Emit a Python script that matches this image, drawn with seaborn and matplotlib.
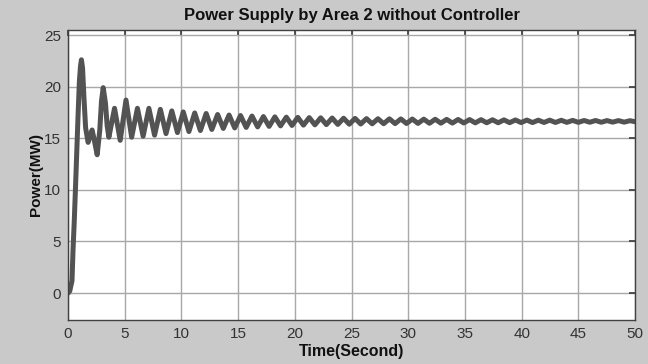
import numpy as np
import pandas as pd
import matplotlib
matplotlib.use("Agg")
import matplotlib.pyplot as plt
import seaborn as sns

# start-up transient
rise_t = [0.0, 0.15, 0.35, 0.44, 0.55, 0.65, 0.78, 0.88, 1.0, 1.1, 1.18, 1.28, 1.4, 1.55,
          1.77, 1.95, 2.12, 2.3, 2.57, 2.8, 2.95, 3.1, 3.3, 3.45, 3.6]
rise_v = [0.0, 0.2, 1.2, 4.2, 7.0, 10.0, 14.0, 17.1, 20.5, 22.0, 22.6, 21.8, 19.0, 16.0,
          14.6, 15.2, 15.8, 14.9, 13.4, 15.8, 18.6, 19.9, 18.4, 16.2, 15.1]

# oscillation peaks
peak_t = [4.10, 5.11, 6.12, 7.13, 8.14, 9.15, 10.16, 11.17, 12.18, 13.19, 14.20, 15.21,
          16.22, 17.23, 18.24, 19.25, 20.26, 21.27, 22.28, 23.29, 24.30, 25.31, 26.32,
          27.33, 28.34, 29.35, 30.36, 31.37, 32.38, 33.39, 34.40, 35.41, 36.42, 37.43,
          38.44, 39.45, 40.46, 41.47, 42.48, 43.49, 44.50, 45.51, 46.52, 47.53, 48.54, 49.55]
peak_v = [17.9, 18.7, 17.9, 17.9, 17.8, 17.65, 17.55, 17.45, 17.4, 17.3, 17.25, 17.2,
          17.15, 17.1, 17.07, 17.04, 17.02, 17.0, 16.98, 16.96, 16.94, 16.92, 16.9,
          16.89, 16.88, 16.87, 16.86, 16.85, 16.84, 16.83, 16.82, 16.81, 16.8, 16.79,
          16.78, 16.77, 16.76, 16.75, 16.75, 16.74, 16.73, 16.72, 16.72, 16.71, 16.71, 16.7]

# oscillation troughs
trough_t = [4.60, 5.61, 6.62, 7.63, 8.64, 9.65, 10.66, 11.67, 12.68, 13.69, 14.70, 15.71,
            16.72, 17.73, 18.74, 19.75, 20.76, 21.77, 22.78, 23.79, 24.80, 25.81, 26.82,
            27.83, 28.84, 29.85, 30.86, 31.87, 32.88, 33.89, 34.90, 35.91, 36.92, 37.93,
            38.94, 39.95, 40.96, 41.97, 42.98, 43.99, 45.00, 46.01, 47.02, 48.03, 49.04, 50.0]
trough_v = [14.8, 15.1, 15.2, 15.3, 15.45, 15.55, 15.65, 15.75, 15.85, 15.95, 16.0, 16.05,
            16.1, 16.15, 16.2, 16.24, 16.27, 16.3, 16.32, 16.34, 16.36, 16.38, 16.4,
            16.41, 16.42, 16.43, 16.44, 16.45, 16.46, 16.47, 16.48, 16.49, 16.5, 16.5,
            16.51, 16.52, 16.52, 16.53, 16.53, 16.54, 16.54, 16.55, 16.55, 16.56, 16.56, 16.6]

x_ticks = [0, 5, 10, 15, 20, 25, 30, 35, 40, 45, 50]
y_ticks = [0, 5, 10, 15, 20, 25]

# merge into one trace
osc_t, osc_v = [], []
for i in range(len(peak_t)):
    osc_t += [peak_t[i], trough_t[i]]
    osc_v += [peak_v[i], trough_v[i]]
df = pd.DataFrame({"t": rise_t + osc_t, "p": rise_v + osc_v})

sns.set_theme(style="whitegrid")
plt.rcParams["font.family"] = ["Liberation Sans", "DejaVu Sans"]

fig = plt.figure(figsize=(6.48, 3.64), dpi=100, facecolor="#c9c9c9")
ax = fig.add_axes([0.105, 0.121, 0.875, 0.797])
ax.set_facecolor("white")

sns.lineplot(data=df, x="t", y="p", ax=ax, color="#535353", linewidth=3.6,
             sort=False, estimator=None)
ax.lines[0].set_solid_joinstyle("round")
ax.lines[0].set_solid_capstyle("round")

ax.set_xlim(0, 50)
ax.set_ylim(-2.6, 25.5)
ax.set_xticks(x_ticks)
ax.set_yticks(y_ticks)
ax.grid(True, color="#a8a8a8", linewidth=1.0)
for s in ax.spines.values():
    s.set_color("#404040")
    s.set_linewidth(1.0)
ax.tick_params(direction="in", length=4, color="#404040", labelsize=11,
               labelcolor="#333333", top=True, right=True, pad=5)

ax.set_title("Power Supply by Area 2 without Controller", fontsize=12,
             fontweight="bold", color="#111111", pad=7)
ax.set_xlabel("Time(Second)", fontsize=11.5, fontweight="bold", color="#111111", labelpad=2)
ax.set_ylabel("Power(MW)", fontsize=11, fontweight="bold", color="#111111", labelpad=1)

fig.savefig("out.png", dpi=100, facecolor=fig.get_facecolor())
